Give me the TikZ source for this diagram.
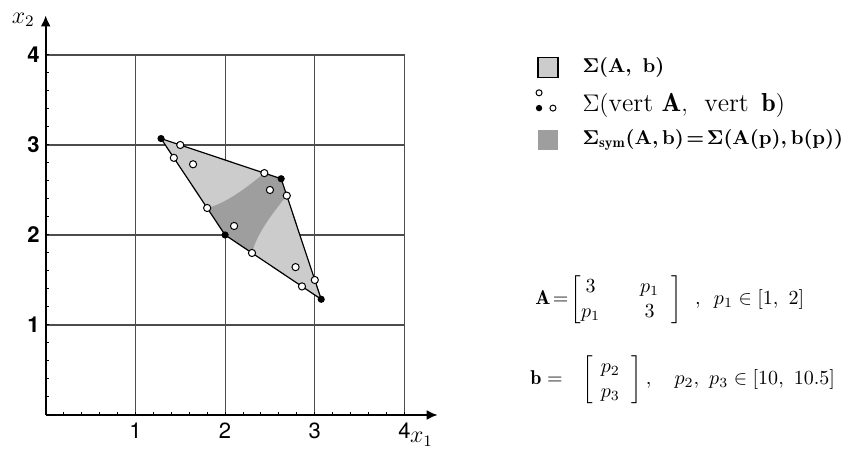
\documentclass[tikz,border=0pt]{standalone}
\usepackage{amsmath}
\usepackage{fontspec}
\newfontfamily\tickfont{TeX Gyre Heros}
\usetikzlibrary{arrows.meta}

\begin{document}
\begin{tikzpicture}[x=44.85pt, y=45pt, every node/.style={font=\normalsize},
    gridln/.style={line width=0.6pt, black!70},
    axisln/.style={line width=1pt, -{Latex[length=5.5pt,width=5pt]}},
    opendot/.style={circle, draw=black, fill=white, line width=0.5pt, inner sep=0pt, minimum size=3.6pt},
    fulldot/.style={circle, fill=black, inner sep=0pt, minimum size=3.6pt},
    lightset/.style={fill=black!20},
    darkset/.style={fill=black!38},
    keyfont/.style={font={\fontsize{10.4}{12.5}\selectfont\boldmath}},
    mtxfont/.style={inner sep=0pt, font={\fontsize{10}{12.5}\selectfont\setlength\arraycolsep{10pt}}}]
  % 画布 857x449 px，1 单位 = 44.85pt x 45pt
  \useasboundingbox (-0.5095,-0.3778) rectangle (9.0446,4.6111);

  % ── E1 网格 ──
  \foreach \k in {1,...,4}{
    \draw[gridln] (\k,0) -- (\k,4);
    \draw[gridln] (0,\k) -- (4,\k); }

  % ── E2 Σ(A,b)：四边形 ──
  \fill[lightset] (1.2857,3.0714) -- (2.625,2.625) -- (3.0714,1.2857) -- (2,2) -- cycle;

  % ── E3 对称解集：两条双曲线 x = A(p)^{-1} b ──
  \fill[darkset] (2,2) -- (1.8,2.3)
    -- plot[domain=2:1, samples=30, variable=\p]
         ({(30-10.5*\p)/(9-\p*\p)}, {(31.5-10*\p)/(9-\p*\p)})
    -- (2.625,2.625)
    -- plot[domain=1:2, samples=30, variable=\p]
         ({(31.5-10*\p)/(9-\p*\p)}, {(30-10.5*\p)/(9-\p*\p)})
    -- cycle;
  \draw[line width=0.6pt] (1.2857,3.0714) -- (2.625,2.625) -- (3.0714,1.2857) -- (2,2) -- cycle;

  % ── E4 坐标轴 ──
  \coordinate (O) at (0,0);
  \coordinate (xend) at (4.37,0);
  \coordinate (yend) at (0,4.44);
  \foreach \t in {0.2,0.4,...,4.01}{
    \draw[line width=0.5pt] (\t,0) -- (\t,0.035);
    \draw[line width=0.5pt] (0,\t) -- (0.035,\t); }
  \draw[axisln] (O) -- (xend);
  \draw[axisln] (O) -- (yend);
  \node[font=\large] (xlab) at (4.19,-0.27) {$x_1$};
  \node[font=\large] (ylab) at (-0.25,4.39) {$x_2$};
  \foreach \k in {1,...,4}{
    \node[font={\tickfont\fontsize{11}{13}\selectfont}, anchor=north, inner sep=1pt] (xt\k) at (\k,-0.06) {\k};
    \node[font={\tickfont\bfseries\fontsize{11}{13}\selectfont}, anchor=east, inner sep=1pt] (yt\k) at (-0.04,\k) {\k}; }

  % ── E5 顶点解 Σ(vert A, vert b)：空心 12 个，实心 4 个 ──
  \foreach \x/\y [count=\i] in {2.5/2.5, 2.4375/2.6875, 2.6875/2.4375, 1.8/2.3, 2.3/1.8, 2.1/2.1,
      1.4286/2.8571, 1.6429/2.7857, 1.5/3.0, 2.8571/1.4286, 2.7857/1.6429, 3.0/1.5}{
    \node[opendot] (v\i) at (\x,\y) {}; }
  \foreach \x/\y [count=\i] in {1.2857/3.0714, 2.625/2.625, 3.0714/1.2857, 2/2}{
    \node[fulldot] (w\i) at (\x,\y) {}; }

  % ── E6 图例 ──
  \node[draw, lightset, line width=0.6pt, minimum size=10pt, inner sep=0pt] (key1) at (5.60,3.86) {};
  \node[anchor=west, inner sep=0pt, keyfont] (lab1) at (5.98,3.86) {$\Sigma(\mathbf{A},\ \mathbf{b})$};
  \node[opendot, minimum size=3pt] (key2a) at (5.50,3.58) {};
  \node[fulldot, minimum size=3.2pt] (key2b) at (5.50,3.41) {};
  \node[opendot, minimum size=3pt] (key2c) at (5.655,3.41) {};
  \node[anchor=west, inner sep=0pt, font={\fontsize{13}{15}\selectfont}] (lab2) at (5.98,3.44)
    {$\Sigma(\mathrm{vert}\ \mathbf{A},\ \,\mathrm{vert}\ \,\mathbf{b})$};
  \node[darkset, minimum size=10pt, inner sep=0pt] (key3) at (5.60,3.06) {};
  \node[anchor=west, inner sep=0pt, keyfont] (lab3) at (5.98,3.06)
    {$\Sigma_{\mathrm{sym}}(\mathbf{A}, \mathbf{b}) \!=\! \Sigma(\mathbf{A}(\mathbf{p}), \mathbf{b}(\mathbf{p}))$};

  % ── E7 区间矩阵 ──
  \node[anchor=west, mtxfont] (Aeq) at (5.455,1.28)
    {$\mathbf{A} \!=\! \left[\begin{matrix} 3 & p_1\\ p_1 & 3 \end{matrix}\hspace{6pt}\right]\enspace,\hspace{5pt} p_1 \in [1,\ 2]$};
  \node[anchor=west, mtxfont] (beq) at (5.40,0.39)
    {$\mathbf{b} = \hspace{7pt}\left[\hspace{4pt}\begin{matrix} p_2\\ p_3 \end{matrix}\hspace{6pt}\right],\quad p_2,\ p_3 \in [10,\ 10.5]$};
\end{tikzpicture}
\end{document}
